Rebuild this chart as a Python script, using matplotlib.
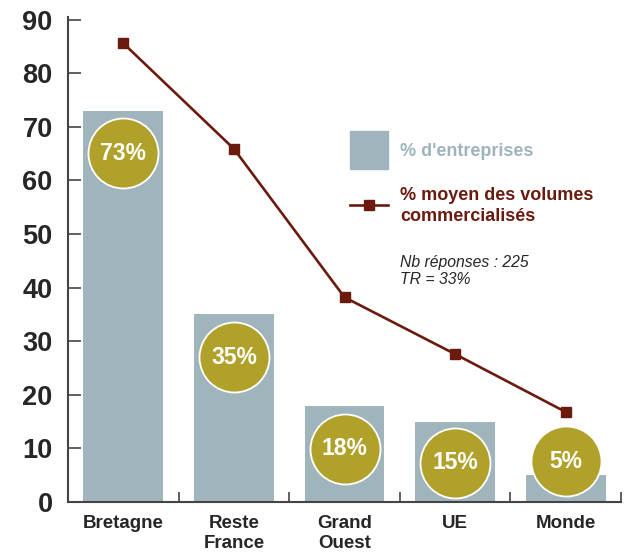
import matplotlib
matplotlib.use("Agg")
import matplotlib.pyplot as plt
from matplotlib.patches import Rectangle
from matplotlib.lines import Line2D

# Data
categories = ["Bretagne", "Reste\nFrance", "Grand\nOuest", "UE", "Monde"]
pct_entreprises = [73, 35, 18, 15, 5]
pct_volumes = [85.6, 65.9, 38.2, 27.6, 16.8]
bubble_labels = ["73%", "35%", "18%", "15%", "5%"]
bubble_y = [65.1, 27.0, 9.9, 7.3, 7.6]  # where the round labels sit

BAR_COLOR = "#9fb4bb"
GOLD = "#b0a12a"
MAROON = "#6b1a0e"
DARK = "#262626"

plt.rcParams["font.family"] = ["Liberation Sans", "DejaVu Sans"]

fig = plt.figure(figsize=(6.26, 5.59), dpi=100)
ax = fig.add_axes([68 / 626, 57 / 559, 553 / 626, 485 / 559])

x = list(range(len(categories)))
ax.bar(x, pct_entreprises, width=0.72, color=BAR_COLOR, zorder=2)
ax.plot(x, pct_volumes, color=MAROON, lw=1.9, marker="s", ms=7,
        mfc=MAROON, mec=MAROON, zorder=4)

# round labels on the bars
ax.scatter(x, bubble_y, s=2540, color=GOLD, edgecolor="white",
           linewidth=1.3, zorder=3)
for xi, yi, lab in zip(x, bubble_y, bubble_labels):
    ax.text(xi, yi, lab, ha="center", va="center", color="white",
            fontsize=16.5, fontweight="bold", zorder=5)

ax.set_xlim(-0.5, 4.5)
ax.set_ylim(0, 90.5)

# y axis
ax.set_yticks(range(0, 91, 10))
ax.tick_params(axis="y", direction="in", length=9, width=1.2, color="#444444",
               labelsize=19.5, pad=11, labelcolor=DARK)
for t in ax.get_yticklabels():
    t.set_fontweight("bold")

# x axis: ticks between categories, labels at centres
ax.set_xticks([0.5, 1.5, 2.5, 3.5, 4.5])
ax.set_xticklabels([])
ax.tick_params(axis="x", which="major", direction="in", length=7, width=1.2,
               color="#444444")
ax.set_xticks(x, minor=True)
ax.set_xticklabels(categories, minor=True, fontsize=13.5, fontweight="bold",
                   color=DARK, linespacing=1.3)
ax.tick_params(axis="x", which="minor", length=0, pad=9)

for side in ["top", "right"]:
    ax.spines[side].set_visible(False)
for side in ["left", "bottom"]:
    ax.spines[side].set_color("#444444")
    ax.spines[side].set_linewidth(1.5)

# legend drawn by hand
W, H = 626, 559
fig.add_artist(Rectangle((350 / W, 1 - 169 / H), 38 / W, 38 / H,
                         transform=fig.transFigure, color=BAR_COLOR))
fig.text(400 / W, 1 - 152 / H, "% d'entreprises", color=BAR_COLOR,
         fontsize=13, fontweight="bold", va="center")
fig.add_artist(Line2D([350 / W, 388 / W], [1 - 205 / H, 1 - 205 / H],
                      transform=fig.transFigure, color=MAROON, lw=1.9))
fig.add_artist(Line2D([369 / W], [1 - 205 / H], transform=fig.transFigure,
                      marker="s", ms=7, color=MAROON))
fig.text(400 / W, 1 - 206 / H, "% moyen des volumes\ncommercialisés",
         color=MAROON, fontsize=13, fontweight="bold", va="center",
         linespacing=1.35)
fig.text(400 / W, 1 - 271 / H, "Nb réponses : 225\nTR = 33%", color=DARK,
         fontsize=11.3, style="italic", va="center", linespacing=1.1)

fig.savefig("out.png", dpi=100)
